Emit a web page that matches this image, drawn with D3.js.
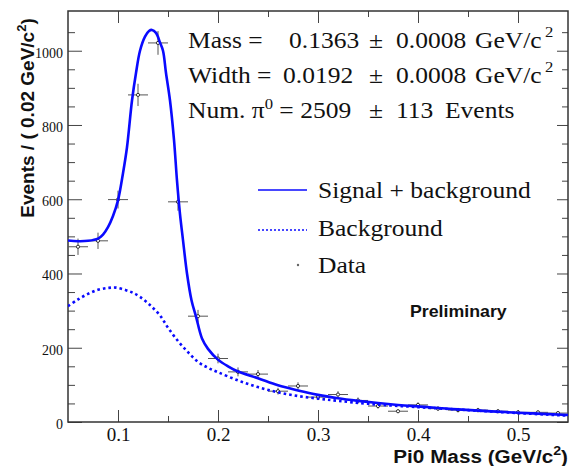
<!DOCTYPE html>
<html><head><meta charset="utf-8">
<script src="https://cdn.jsdelivr.net/npm/d3@7"></script>
<style>body{margin:0;background:#fff}svg{display:block}
.serif{font-family:'Liberation Serif','Times New Roman',serif}
</style>
</head><body>
<svg id="c" width="571" height="466"></svg>
<script>
// ---- data ----
const binCenters = [0.06,0.08,0.10,0.12,0.14,0.16,0.18,0.20,0.22,0.24,0.26,0.28,0.30,0.32,0.34,0.36,0.38,0.40,0.42,0.44,0.46,0.48,0.50,0.52,0.54];
const binCounts  = [472,488,599,881,1021,593,285,171,135,129,83,97,67,74,58,43,29,46,36,32,32,29,26,26,24];
const binErrors  = [22,22,24,30,32,24,17,13,12,11,9,10,8,9,8,7,5,7,6,6,6,5,5,5,5];
const binHalfWidth = 0.01;

const fitX = [0.05,0.06,0.07,0.08,0.085,0.09,0.095,0.10,0.105,0.109,0.114,0.118,0.122,0.127,0.131,0.134,0.138,0.142,0.145,0.148,0.152,0.156,0.159,0.162,0.165,0.169,0.1735,0.178,0.184,0.19,0.20,0.21,0.22,0.24,0.26,0.28,0.30,0.32,0.34,0.36,0.38,0.40,0.44,0.50,0.55];
const fitY = [489,487,488,494,505,525,555,597,670,740,866,940,1000,1038,1053,1056,1048,1022,1000,940,866,760,650,560,490,400,328,284,225,197,168,150,136,118,99,85,73,64,57,51,46,42,34,25,19];

const bkgX = [0.05,0.06,0.07,0.08,0.09,0.098,0.108,0.115,0.122,0.132,0.142,0.15,0.16,0.17,0.18,0.19,0.20,0.22,0.24,0.26,0.28,0.30,0.32,0.35,0.40,0.45,0.50,0.55];
const bkgY = [312,330,345,356,361,362,355,348,337,315,287,254,218,188,162,146,134,112,94,80,70,63,57,49,40,32,24,17];

const xMajor = [0.1,0.2,0.3,0.4,0.5];
const xMinor = [0.15,0.25,0.35,0.45];
const yMajor = [0,200,400,600,800,1000];
const yMinor = [50,100,150,250,300,350,450,500,550,650,700,750,850,900,950,1050];

const legendLabels = ["Signal + background","Background","Data"];

// ---- drawing ----
const svg = d3.select("#c");
const L=68,R=568,T=11,B=422;
const x = d3.scaleLinear([0.05,0.55],[L,R]);
const y = d3.scaleLinear([0,1107],[B,T]);
const serif = "'Liberation Serif','Times New Roman',serif";
const sans = "'Liberation Sans',Arial,Helvetica,sans-serif";
const axCol = "#444";
const SX = 1.11; // horizontal stretch of the reference text

function styleAxis(g){ g.select(".domain").remove(); g.selectAll("line").attr("stroke",axCol); }

// bottom
svg.append("g").attr("transform",`translate(0,${B})`)
  .call(d3.axisBottom(x).tickValues(xMajor).tickSize(-12).tickPadding(6).tickFormat(d3.format(".1f")))
  .call(styleAxis)
  .attr("font-family",serif).attr("font-size",19)
  .call(g=>g.selectAll("text").attr("class","serif").style("font-size","19px").attr("fill","#111"));
svg.append("g").attr("transform",`translate(0,${B})`)
  .call(d3.axisBottom(x).tickValues(xMinor).tickSize(-6).tickFormat("")).call(styleAxis);
// top
svg.append("g").attr("transform",`translate(0,${T})`)
  .call(d3.axisTop(x).tickValues(xMajor).tickSize(-12).tickFormat("")).call(styleAxis);
svg.append("g").attr("transform",`translate(0,${T})`)
  .call(d3.axisTop(x).tickValues(xMinor).tickSize(-6).tickFormat("")).call(styleAxis);
// left
svg.append("g").attr("transform",`translate(${L},0)`)
  .call(d3.axisLeft(y).tickValues(yMajor).tickSize(-14).tickPadding(5).tickFormat(d3.format("d")))
  .call(styleAxis)
  .attr("font-family",serif).attr("font-size",14)
  .call(g=>g.selectAll("text").attr("class","serif").style("font-size","14px").attr("fill","#111").attr("dy","0.45em"));
svg.append("g").attr("transform",`translate(${L},0)`)
  .call(d3.axisLeft(y).tickValues(yMinor).tickSize(-7).tickFormat("")).call(styleAxis);
// right
svg.append("g").attr("transform",`translate(${R},0)`)
  .call(d3.axisRight(y).tickValues(yMajor).tickSize(-11).tickFormat("")).call(styleAxis);
svg.append("g").attr("transform",`translate(${R},0)`)
  .call(d3.axisRight(y).tickValues(yMinor).tickSize(-6).tickFormat("")).call(styleAxis);

svg.append("rect").attr("x",L).attr("y",T).attr("width",R-L).attr("height",B-T)
  .attr("fill","none").attr("stroke","#333").attr("stroke-width",1.5);

// data points
const pts = binCenters.map((c,i)=>({x:c,y:binCounts[i],e:binErrors[i]}));
const dg = svg.append("g").attr("stroke","#555").attr("stroke-width",1);
dg.selectAll("line.h").data(pts).join("line").attr("class","h")
  .attr("x1",d=>x(d.x-binHalfWidth)).attr("x2",d=>x(d.x+binHalfWidth)).attr("y1",d=>y(d.y)).attr("y2",d=>y(d.y));
dg.selectAll("line.v").data(pts).join("line").attr("class","v")
  .attr("x1",d=>x(d.x)).attr("x2",d=>x(d.x)).attr("y1",d=>y(d.y-d.e)).attr("y2",d=>y(d.y+d.e));
dg.selectAll("circle").data(pts).join("circle")
  .attr("cx",d=>x(d.x)).attr("cy",d=>y(d.y)).attr("r",1.6).attr("fill","#fff").attr("stroke","#333");

// curves
const line = d3.line().x(d=>x(d[0])).y(d=>y(d[1])).curve(d3.curveCatmullRom.alpha(0.5));
svg.append("clipPath").attr("id","pc").append("rect").attr("x",L).attr("y",T).attr("width",R-L).attr("height",B-T);
svg.append("path").attr("clip-path","url(#pc)").datum(bkgX.map((v,i)=>[v,bkgY[i]])).attr("d",line)
  .attr("fill","none").attr("stroke","#0a0aff").attr("stroke-width",2.6).attr("stroke-dasharray","2.6,3");
svg.append("path").attr("clip-path","url(#pc)").datum(fitX.map((v,i)=>[v,fitY[i]])).attr("d",line)
  .attr("fill","none").attr("stroke","#0a0aff").attr("stroke-width",2.6);

// stretched serif text helper
function stext(g, px, py, str, size){
  return g.append("text").attr("transform",`translate(${px},${py}) scale(${SX},1)`)
    .attr("font-family",serif).attr("font-size",size||23).attr("fill","#111").text(str);
}

// stats text
const st = svg.append("g");
[[48,"Mass =",289,"0.1363"],[83,"Width =",283,"0.0192"]].forEach(r=>{
  stext(st,188,r[0],r[1]);
  stext(st,r[2],r[0],r[3]);
  stext(st,369,r[0],"\u00b1");
  stext(st,396,r[0],"0.0008");
  stext(st,475,r[0],"GeV/c");
  stext(st,545,r[0]-11,"2",15);
});
{
  const by = 118;
  const t = stext(st,188,by,"");
  t.append("tspan").text("Num. \u03c0");
  t.append("tspan").attr("font-size",15).attr("dy",-9).text("0");
  t.append("tspan").attr("dy",9).text(" = 2509");
  stext(st,369,by,"\u00b1");
  stext(st,396,by,"113");
  stext(st,445,by,"Events");
}

// legend
const lg = svg.append("g");
lg.append("line").attr("x1",258).attr("x2",307).attr("y1",190).attr("y2",190).attr("stroke","#0a0aff").attr("stroke-width",1.5);
lg.append("line").attr("x1",258).attr("x2",307).attr("y1",230).attr("y2",230).attr("stroke","#0a0aff").attr("stroke-width",1.5).attr("stroke-dasharray","2,2");
lg.append("circle").attr("cx",298).attr("cy",265).attr("r",1.2).attr("fill","#666");
legendLabels.forEach((s,i)=>stext(lg,318,198+i*37.5,s,23));

svg.append("text").attr("transform","translate(410,317) scale(1.11,1)").attr("font-family",sans).attr("font-weight","bold")
  .attr("font-size",16).attr("fill","#111").text("Preliminary");

// axis titles
const yt = svg.append("text").attr("transform","translate(34,118) rotate(-90)").attr("text-anchor","middle")
  .attr("font-family",sans).attr("font-weight","bold").attr("font-size",19).attr("fill","#111");
yt.append("tspan").text("Events / ( 0.02 GeV/c");
yt.append("tspan").attr("font-size",13).attr("dy",-8).text("2");
yt.append("tspan").attr("dy",8).text(")");
const xt = svg.append("text").attr("transform","translate(568,463) scale(1.09,1)").attr("text-anchor","end")
  .attr("font-family",sans).attr("font-weight","bold").attr("font-size",19).attr("fill","#111");
xt.append("tspan").text("Pi0 Mass (GeV/c");
xt.append("tspan").attr("font-size",13).attr("dy",-8).text("2");
xt.append("tspan").attr("dy",8).text(")");
</script>
</body></html>
